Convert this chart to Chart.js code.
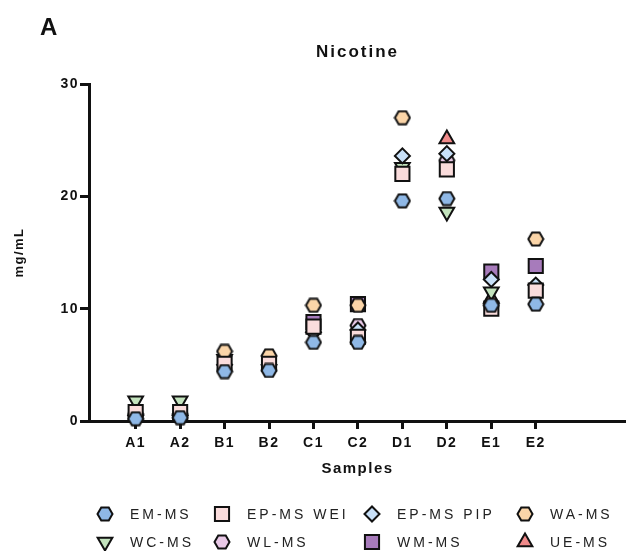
<!DOCTYPE html>
<html>
<head>
<meta charset="utf-8">
<script src="https://cdn.jsdelivr.net/npm/chart.js@4.4.0/dist/chart.umd.min.js"></script>
<style>
html,body{margin:0;padding:0;background:#ffffff;}
#wrap{position:relative;width:626px;height:551px;}
</style>
</head>
<body>
<div id="wrap"><canvas id="c" width="626" height="551"></canvas></div>
<script>
// ---- data ----
const categories = ['A1','A2','B1','B2','C1','C2','D1','D2','E1','E2'];
const seriesNames = ['EM-MS','EP-MS WEI','EP-MS PIP','WA-MS','WC-MS','WL-MS','WM-MS','UE-MS'];
const emMs    = [0.2, 0.3, 4.4, 4.5, 7.0, 7.0, 19.6, 19.8, 10.3, 10.4];
const epMsWei = [0.8, 0.8, 5.1, 5.1, 8.4, 7.5, 22.0, 22.4, 10.0, 11.6];
const epMsPip = [0.5, 0.5, 5.0, 5.0, 7.9, 8.1, 23.6, 23.8, 12.6, 12.1];
const waMs    = [0.6, 0.6, 6.2, 5.8, 10.3, 10.3, 27.0, null, null, 16.2];
const wcMs    = [1.8, 1.8, 5.5, null, null, null, 22.6, 18.6, 11.5, null];
const wlMs    = [null, null, null, null, null, 8.5, null, 23.2, null, null];
const wmMs    = [null, null, null, null, 8.8, 10.4, null, null, 13.3, 13.8];
const ueMs    = [null, null, null, null, null, null, null, 25.1, 10.9, null];
const yTicks  = [0, 10, 20, 30];
const titleText = 'Nicotine';
const panelLabel = 'A';
const xTitle = 'Samples';
const yTitle = 'mg/mL';

// ---- styles ----
const FONT = '"Liberation Sans", Arial, sans-serif';
function hexImage(fill){
  const c = document.createElement('canvas');
  c.width = 18; c.height = 16;
  const g = c.getContext('2d');
  const w = 15, h = 13, cx = 9, cy = 8;
  g.beginPath();
  g.moveTo(cx - w/2, cy);
  g.lineTo(cx - w/4, cy - h/2);
  g.lineTo(cx + w/4, cy - h/2);
  g.lineTo(cx + w/2, cy);
  g.lineTo(cx + w/4, cy + h/2);
  g.lineTo(cx - w/4, cy + h/2);
  g.closePath();
  g.fillStyle = fill; g.fill();
  g.lineWidth = 2; g.strokeStyle = '#111'; g.stroke();
  return c;
}
const seriesValues = [emMs, epMsWei, epMsPip, waMs, wcMs, wlMs, wmMs, ueMs];
const seriesFill = ['#8fb8e6','#fadcdc','#c8e0f8','#fbd5a8','#c3e3bd','#e8c8e6','#a77bbb','#f08a8a'];
const seriesStyle = [
  {style: hexImage('#8fb8e6'), r: 7, rot: 0},
  {style: 'rect', r: 10, rot: 0},
  {style: 'rectRot', r: 7.5, rot: 0},
  {style: hexImage('#fbd5a8'), r: 7, rot: 0},
  {style: 'triangle', r: 8.5, rot: 180},
  {style: hexImage('#e8c8e6'), r: 7, rot: 0},
  {style: 'rect', r: 10, rot: 0},
  {style: 'triangle', r: 8.5, rot: 0}
];

const datasets = seriesNames.map((name, s) => ({
  label: name,
  data: categories.map((c, i) => ({x: i + 1, y: seriesValues[s][i]})).filter(p => p.y !== null),
  showLine: false,
  clip: false,
  pointStyle: seriesStyle[s].style,
  pointRadius: seriesStyle[s].r,
  pointHoverRadius: seriesStyle[s].r,
  pointRotation: seriesStyle[s].rot,
  pointBackgroundColor: seriesFill[s],
  pointBorderColor: '#111',
  pointBorderWidth: 2
}));

const spacingPlugin = {
  id: 'spacing',
  beforeDraw(chart){ chart.ctx.letterSpacing = '1.5px'; }
};

const legendMarkerX = [105, 222, 372, 525];
const legendRowY = [514, 542];
const textPlugin = {
  id: 'texts',
  afterDraw(chart){
    const ctx = chart.ctx;
    const ca = chart.chartArea;
    ctx.save();
    ctx.fillStyle = '#111';
    ctx.letterSpacing = '1px';
    ctx.font = 'bold 24px ' + FONT;
    ctx.textAlign = 'left'; ctx.textBaseline = 'alphabetic';
    ctx.fillText(panelLabel, 40, 35);
    ctx.letterSpacing = '2px';
    ctx.font = 'bold 17px ' + FONT;
    ctx.textAlign = 'center';
    ctx.fillText(titleText, (ca.left + ca.right) / 2, 56.5);
    // legend
    chart.data.datasets.forEach((ds, i) => {
      const col = i % 4, row = Math.floor(i / 4);
      const mx = legendMarkerX[col], my = legendRowY[row];
      ctx.save();
      ctx.fillStyle = ds.pointBackgroundColor;
      ctx.strokeStyle = ds.pointBorderColor;
      ctx.lineWidth = ds.pointBorderWidth;
      Chart.helpers.drawPoint(ctx, {pointStyle: ds.pointStyle, rotation: ds.pointRotation, radius: ds.pointRadius, borderWidth: ds.pointBorderWidth}, mx, my);
      ctx.restore();
      ctx.fillStyle = '#222';
      ctx.font = '14px ' + FONT;
      ctx.letterSpacing = '3px';
      ctx.textAlign = 'left'; ctx.textBaseline = 'middle';
      ctx.fillText(ds.label, mx + 25, my + 1);
    });
    ctx.restore();
  }
};

new Chart(document.getElementById('c'), {
  type: 'scatter',
  data: {datasets},
  options: {
    responsive: false,
    animation: false,
    devicePixelRatio: 1,
    layout: {autoPadding: false, padding: {top: 84, bottom: 70, left: 0, right: 0}},
    plugins: {legend: {display: false}, tooltip: {enabled: false}, title: {display: false}},
    scales: {
      x: {
        type: 'linear',
        min: -0.05, max: 12.03,
        afterFit(scale){ scale.height = 60; scale.paddingLeft = 0; scale.paddingRight = 0; },
        afterBuildTicks(scale){ scale.ticks = categories.map((c, i) => ({value: i + 1})); },
        ticks: {
          callback: (v) => categories[v - 1],
          font: {family: FONT, size: 14, weight: 'bold'},
          color: '#111', padding: 6, maxRotation: 0, autoSkip: false
        },
        grid: {display: true, drawOnChartArea: false, drawTicks: true, tickLength: 8, tickWidth: 3, tickColor: '#111'},
        border: {display: true, width: 3, color: '#111'},
        title: {display: true, text: xTitle, font: {family: FONT, size: 15, weight: 'bold'}, color: '#111', padding: {top: 0, bottom: 3}}
      },
      y: {
        type: 'linear',
        min: 0, max: 30,
        afterFit(scale){ scale.width = 89; },
        afterBuildTicks(scale){ scale.ticks = yTicks.map(v => ({value: v})); },
        ticks: {font: {family: FONT, size: 14, weight: 'bold'}, color: '#111', padding: 1},
        grid: {display: true, drawOnChartArea: false, drawTicks: true, tickLength: 9, tickWidth: 3, tickColor: '#111'},
        border: {display: true, width: 3, color: '#111'},
        title: {display: true, text: yTitle, font: {family: FONT, size: 13, weight: 'bold'}, color: '#111', padding: {top: 12, bottom: 0}}
      }
    }
  },
  plugins: [spacingPlugin, textPlugin]
});
</script>
</body>
</html>
